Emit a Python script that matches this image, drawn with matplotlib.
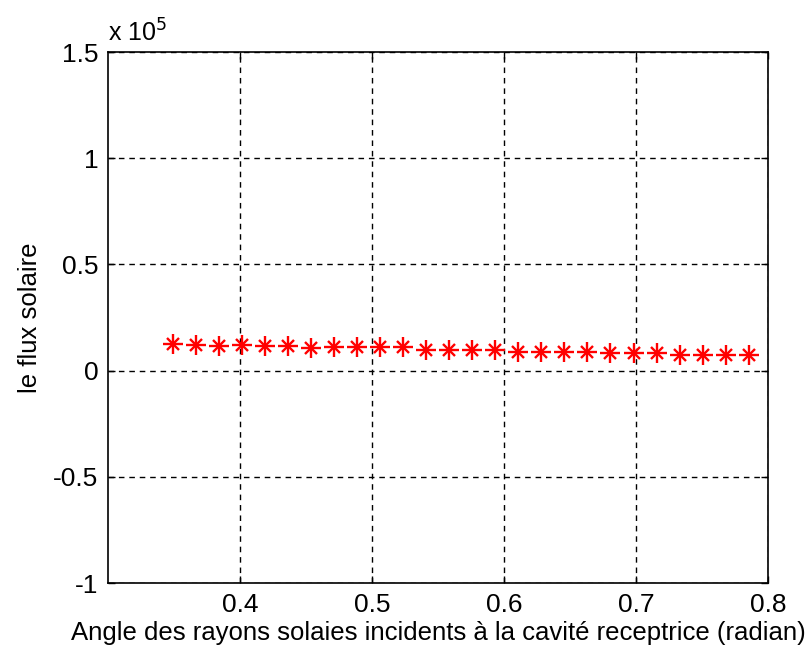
import numpy as np
import matplotlib
matplotlib.use('Agg')
import matplotlib.pyplot as plt
from matplotlib.ticker import FuncFormatter

plt.rcParams['font.family'] = ['Liberation Sans', 'DejaVu Sans']
plt.rcParams['axes.unicode_minus'] = False

# angle in degrees 20..45, converted to radian
angle_deg = [20, 21, 22, 23, 24, 25, 26, 27, 28, 29, 30, 31, 32,
             33, 34, 35, 36, 37, 38, 39, 40, 41, 42, 43, 44, 45]
angle_rad = np.deg2rad(angle_deg)

# solar flux (W/m2)
flux = [12600, 12100, 11800, 12100, 11800, 11400, 10700, 11000, 11000,
        11000, 11000, 9700, 9900, 9700, 9700, 8600, 8600, 8600, 8600,
        8200, 8200, 8200, 7400, 7400, 7400, 7400]

xticks = [0.4, 0.5, 0.6, 0.7, 0.8]
yticks = [-1e5, -0.5e5, 0, 0.5e5, 1e5, 1.5e5]

fig = plt.figure(figsize=(8.11, 6.57), dpi=100)
ax = fig.add_axes([0.133, 0.1126, 0.814, 0.8082])

# matlab-like asterisk: plus + cross
ax.plot(angle_rad, flux, linestyle='none', marker='+', ms=15, mew=1.7, color='red')
ax.plot(angle_rad, flux, linestyle='none', marker='x', ms=9, mew=1.7, color='red')

ax.set_xlim(0.3, 0.8)
ax.set_ylim(-1e5, 1.5e5)
ax.set_xticks(xticks)
ax.set_yticks(yticks)
ax.yaxis.set_major_formatter(FuncFormatter(lambda v, p: '%g' % (v / 1e5)))
ax.xaxis.set_major_formatter(FuncFormatter(lambda v, p: '%g' % v))

ax.grid(True, color='black', linestyle=(0, (4, 3.5)), linewidth=1)
ax.tick_params(direction='in', top=True, right=True, length=5, width=1,
               labelsize=19, pad=7)
for s in ax.spines.values():
    s.set_linewidth(1.2)

ax.text(0.0, 1.01, r'x 10$^5$', transform=ax.transAxes, fontsize=18,
        ha='left', va='bottom')

ax.set_xlabel('Angle des rayons solaies incidents à la cavité receptrice (radian)',
              fontsize=18.5, labelpad=3)
ax.set_ylabel('le flux solaire', fontsize=18.5, labelpad=8)

fig.savefig('out.png', dpi=100)
